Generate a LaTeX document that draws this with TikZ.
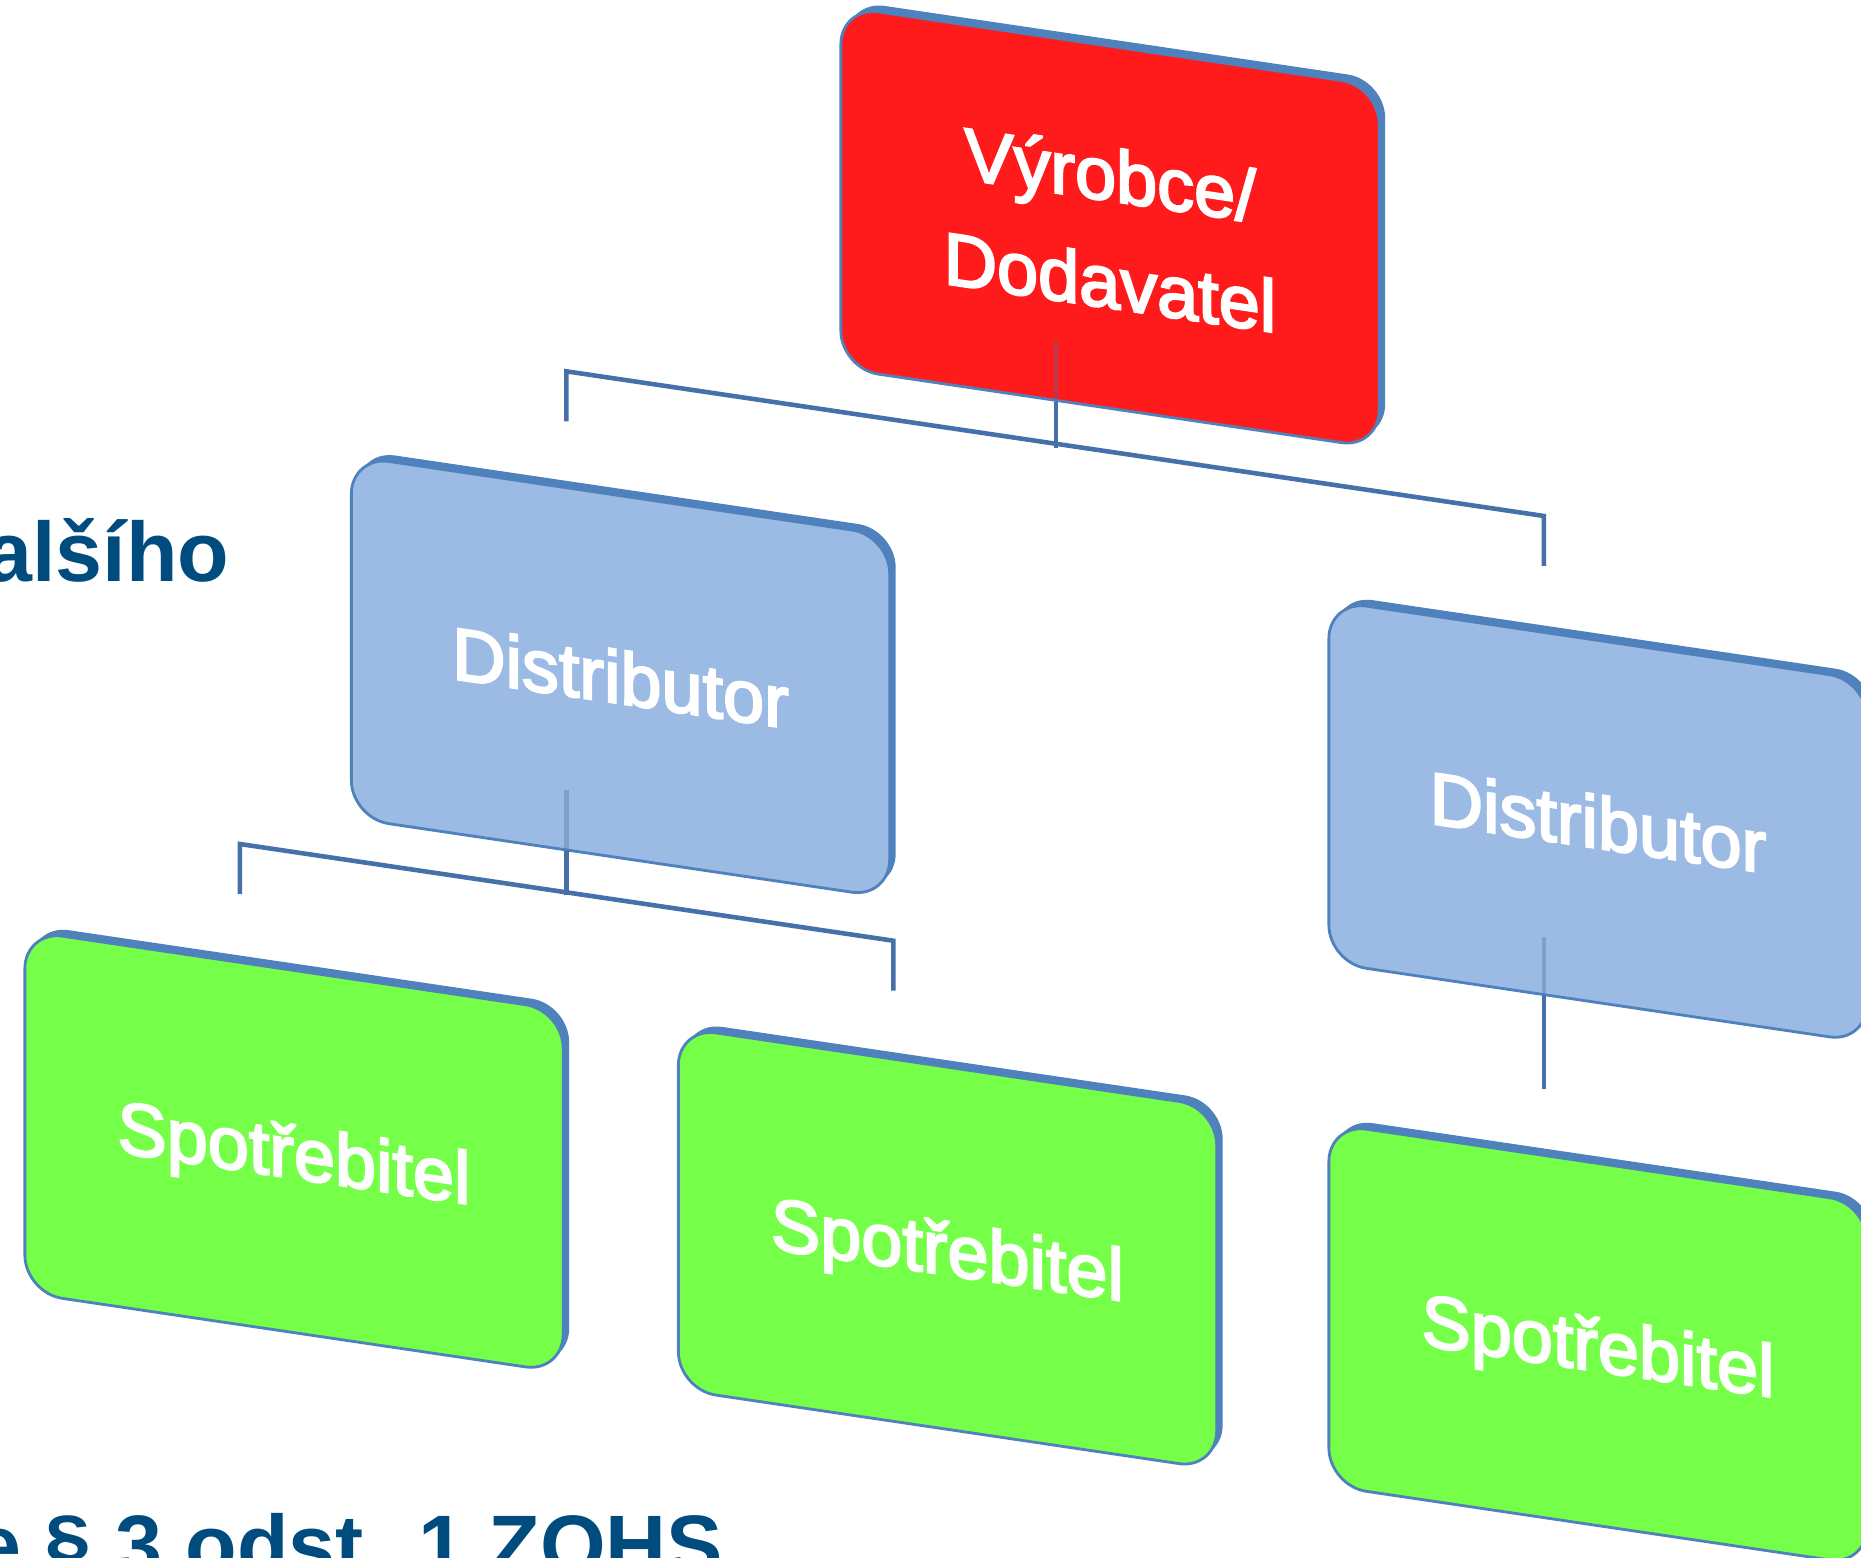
\documentclass[tikz,border=0pt]{standalone}
\usepackage{fontspec}
\setmainfont{Liberation Sans}
\newfontfamily\cardfont[FakeBold=3]{Liberation Sans}
\usetikzlibrary{calc,shadows}
\definecolor{edgeblue}{RGB}{79,129,189}
\definecolor{linkblue}{RGB}{70,112,170}
\definecolor{makerred}{RGB}{255,27,27}
\definecolor{distblue}{RGB}{155,187,228}
\definecolor{buyergreen}{RGB}{118,255,72}
\definecolor{slidetext}{RGB}{0,76,127}

\begin{document}
\begin{tikzpicture}[
    x=0.01cm, y=-0.01cm,
    card/.style={rectangle, draw=edgeblue, line width=0.8pt, rounded corners=0.38cm, minimum width=5.38cm, minimum height=3.62cm, align=center, text=white, text depth=0pt, font=\cardfont\fontsize{21}{30.5}\selectfont, transform shape, general shadow={shadow xshift=0.06cm, shadow yshift=0.06cm, fill=edgeblue}},
    link/.style={draw=linkblue, line width=1.3pt},
    hidden link/.style={link, draw opacity=0.35},
    slide/.style={text=slidetext, font=\bfseries\fontsize{24}{30}\selectfont, inner sep=0pt}
]
    \useasboundingbox (0,0) rectangle (1861,1557);

    % slide text behind the chart
    \node[slide, anchor=base east] (further) at (230,581) {alšího};
    \node[slide, anchor=base east] (clause) at (724,1574) {e § 3 odst. 1 ZOHS};

    \begin{scope}[yslant=-0.148]
    \node[card, fill=makerred] (maker) at (1110,63) {Výrobce/\\Dodavatel};
    \node[card, fill=distblue] (distA) at (620.5,585) {Distributor};
    \node[card, fill=distblue] (distB) at (1598,585) {Distributor};
    \node[card, fill=buyergreen] (buyerA) at (294,1108) {Spotřebitel};
    \node[card, fill=buyergreen] (buyerB) at (947.5,1108) {Spotřebitel};
    \node[card, fill=buyergreen] (buyerC) at (1598,1108) {Spotřebitel};

    \coordinate (makerfoot) at ($(maker.south west)!0.4!(maker.south east)$);
    \coordinate (distAhead) at ($(distA.north west)!0.4!(distA.north east)$);
    \coordinate (distBhead) at ($(distB.north west)!0.4!(distB.north east)$);
    \coordinate (distAfoot) at ($(distA.south west)!0.4!(distA.south east)$);
    \coordinate (distBfoot) at ($(distB.south west)!0.4!(distB.south east)$);
    \coordinate (buyerAhead) at ($(buyerA.north west)!0.4!(buyerA.north east)$);
    \coordinate (buyerBhead) at ($(buyerB.north west)!0.4!(buyerB.north east)$);
    \coordinate (buyerChead) at ($(buyerC.north west)!0.4!(buyerC.north east)$);

    % maker to distributors
    \draw[hidden link] ($(makerfoot)+(0,-61)$) -- (makerfoot);
    \draw[link] (makerfoot) -- ++(0,46);
    \draw[link] ($(distAhead)+(0,-65)$) -- ++(0,-50) -- ($(distBhead)+(0,-115)$) -- ++(0,50);

    % distributors to consumers
    \draw[hidden link] ($(distAfoot)+(0,-61)$) -- (distAfoot);
    \draw[link] (distAfoot) -- ++(0,44);
    \draw[link] ($(buyerAhead)+(0,-67)$) -- ++(0,-50) -- ($(buyerBhead)+(0,-117)$) -- ++(0,50);
    \draw[hidden link] ($(distBfoot)+(0,-59)$) -- (distBfoot);
    \draw[link] (distBfoot) -- ($(buyerChead)+(0,-65)$);
    \end{scope}
\end{tikzpicture}
\end{document}
